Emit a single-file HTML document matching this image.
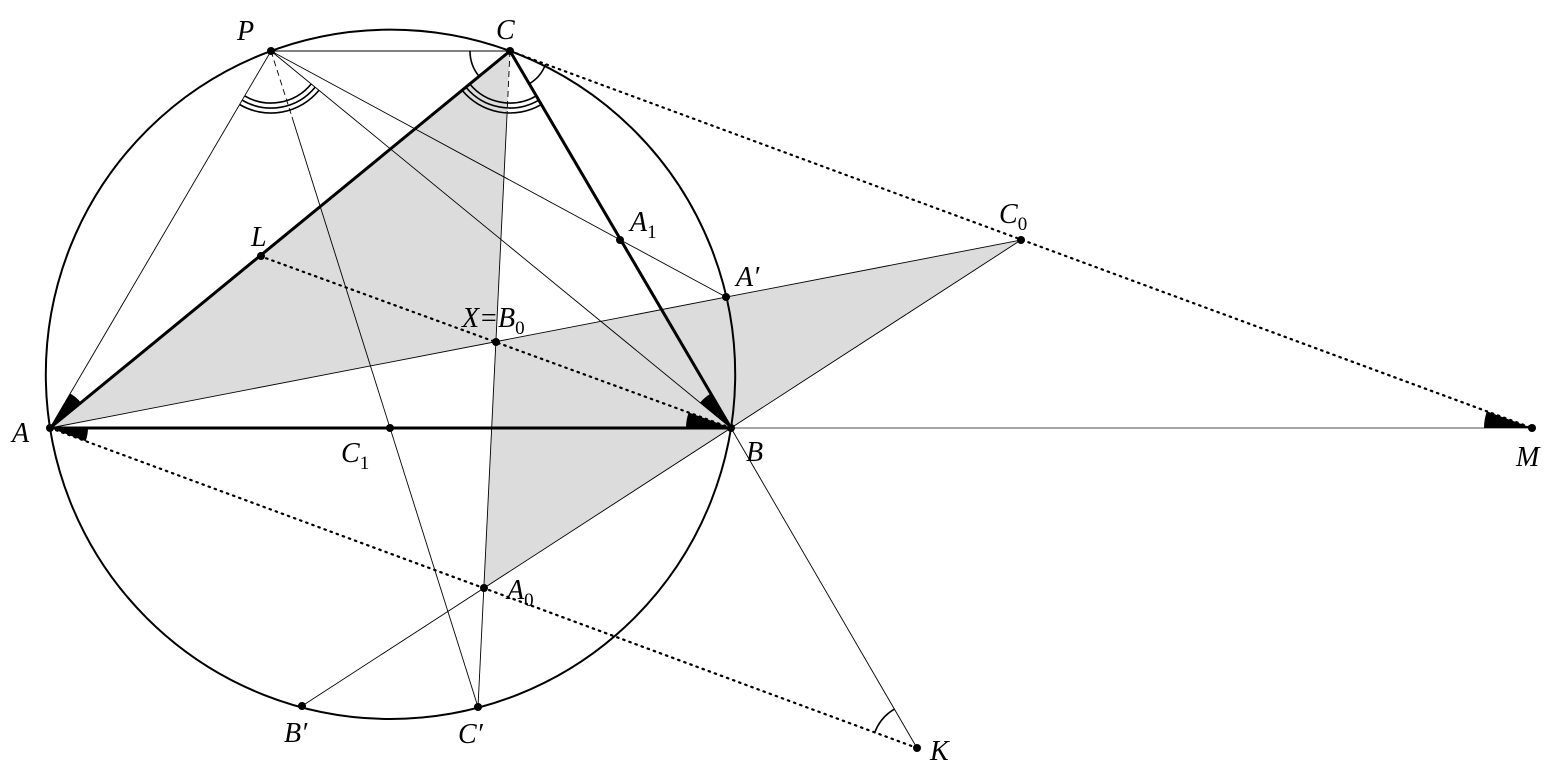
<!DOCTYPE html>
<html><head><meta charset="utf-8"><style>
html,body{margin:0;padding:0;background:#fff;}
svg{display:block;}
text{font-family:"Liberation Serif",serif;font-style:italic;font-size:28px;fill:#000;}
.sub{font-style:normal;font-size:19px;}
</style></head><body>
<svg width="1562" height="780" viewBox="0 0 1562 780" xmlns="http://www.w3.org/2000/svg">
<polygon points="50,428 510,51 496,342" fill="#dcdcdc"/>
<polygon points="496,342 1021,240 731,428 484,588" fill="#dcdcdc"/>
<circle cx="390.5" cy="374.3" r="344.7" fill="none" stroke="#000" stroke-width="2"/>
<g stroke="#000" stroke-width="0.9" fill="none">
<line x1="271" y1="51" x2="510" y2="51"/>
<line x1="271" y1="51" x2="50" y2="428"/>
<line x1="271" y1="51" x2="731" y2="428"/>
<line x1="271" y1="51" x2="726" y2="297"/>
<line x1="271" y1="51" x2="292" y2="117" stroke-dasharray="6,4"/>
<line x1="292" y1="117" x2="478" y2="707"/>
<line x1="510" y1="51" x2="507" y2="115" stroke-dasharray="6,4"/>
<line x1="507" y1="115" x2="478" y2="707"/>
<line x1="50" y1="428" x2="1021" y2="240"/>
<line x1="302" y1="706" x2="1021" y2="240"/>
<line x1="731" y1="428" x2="917" y2="748"/>
<line x1="731" y1="428" x2="1532" y2="428" stroke="#888" stroke-width="1.5"/>
</g>
<g stroke="#000" stroke-width="2.2" fill="none" stroke-dasharray="1.5,5" stroke-linecap="round">
<line x1="510" y1="51" x2="1532" y2="428"/>
<line x1="260" y1="256" x2="731" y2="428"/>
<line x1="50" y1="428" x2="917" y2="748"/>
</g>
<g stroke="#000" stroke-width="3" fill="none">
<line x1="50" y1="428" x2="731" y2="428"/>
<line x1="50" y1="428" x2="510" y2="51"/>
<line x1="510" y1="51" x2="731" y2="428"/>
</g>
<g fill="#000">
<path d="M50,428 L80.9,402.6 A40,40 0 0 0 70.2,393.5 Z"/>
<path d="M50,428 L88,428 A38,38 0 0 1 85.6,441.2 Z"/>
<path d="M731,428 L686,428 A45,45 0 0 1 688.7,412.5 Z"/>
<path d="M731,428 L700,402.7 A40,40 0 0 1 710.7,393.6 Z"/>
<path d="M1532,428 L1484,428 A48,48 0 0 1 1486.9,411.4 Z"/>
</g>
<g stroke="#000" stroke-width="1.6" fill="none">
<path d="M311.2,84 A52,52 0 0 1 244.7,95.9"/>
<path d="M315.1,87.2 A57,57 0 0 1 242.2,100.2"/>
<path d="M318.9,90.4 A62,62 0 0 1 239.6,104.5"/>
<path d="M536.2,95.9 A52,52 0 0 1 469.8,84"/>
<path d="M538.7,100.2 A57,57 0 0 1 465.9,87.1"/>
<path d="M541.2,104.6 A62,62 0 0 1 462.1,90.3"/>
<path d="M479.1,76.4 A40,40 0 0 1 470,51"/>
<path d="M545.6,64.1 A38,38 0 0 1 529.2,83.8"/>
<path d="M874.8,732.4 A45,45 0 0 1 894.3,709.2"/>
</g>
<g fill="#000">
<circle cx="271" cy="51" r="4"/><circle cx="510" cy="51" r="4"/>
<circle cx="50" cy="428" r="4"/><circle cx="731" cy="428" r="4"/>
<circle cx="1532" cy="428" r="4"/><circle cx="917" cy="748" r="4"/>
<circle cx="1021" cy="240" r="4"/><circle cx="726" cy="297" r="4"/>
<circle cx="620" cy="240" r="4"/><circle cx="261" cy="256" r="4"/>
<circle cx="496" cy="342" r="4"/><circle cx="390" cy="428" r="4"/>
<circle cx="484" cy="588" r="4"/><circle cx="302" cy="706" r="4"/>
<circle cx="478" cy="707" r="4"/>
</g>
<text x="237" y="40">P</text>
<text x="496" y="39">C</text>
<text x="12" y="442">A</text>
<text x="746" y="461">B</text>
<text x="1516" y="466">M</text>
<text x="930" y="760">K</text>
<text x="999" y="223">C<tspan class="sub" dy="7">0</tspan></text>
<text x="736" y="286">A′</text>
<text x="630" y="231">A<tspan class="sub" dy="7">1</tspan></text>
<text x="251" y="246">L</text>
<text x="462" y="327">X=B<tspan class="sub" dy="7">0</tspan></text>
<text x="341" y="462">C<tspan class="sub" dy="7">1</tspan></text>
<text x="507" y="599">A<tspan class="sub" dy="7">0</tspan></text>
<text x="284" y="742">B′</text>
<text x="458" y="743">C′</text>
</svg>
</body></html>
